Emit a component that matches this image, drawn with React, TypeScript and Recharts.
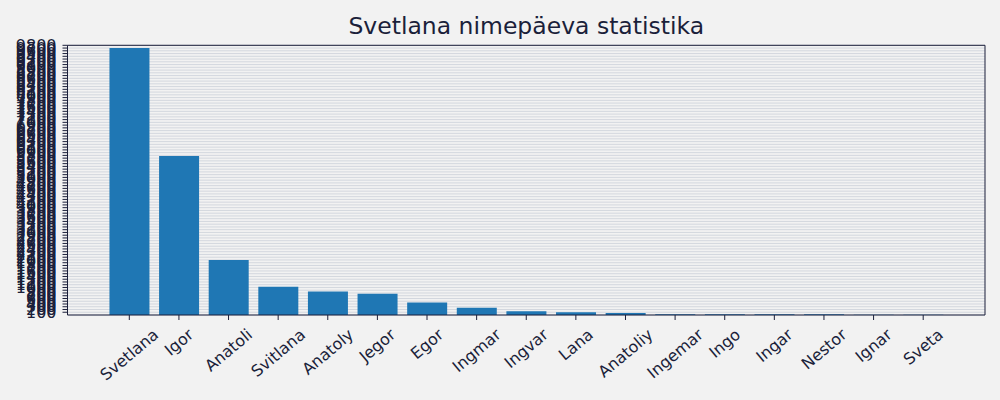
import React from "react";
import { BarChart, Bar, XAxis, YAxis, CartesianGrid } from "recharts";

const names = [
  "Svetlana", "Igor", "Anatoli", "Svitlana", "Anatoly", "Jegor", "Egor", "Ingmar", "Ingvar",
  "Lana", "Anatoliy", "Ingemar", "Ingo", "Ingar", "Nestor", "Ignar", "Sveta",
];
const counts = [9700, 5780, 2000, 1030, 850, 775, 450, 265, 135, 100, 73, 28, 28, 28, 28, 5, 5];

// y ticks every 100, like the original
const yTicks = Array.from({ length: 98 }, (_, i) => (i + 1) * 100);

const data = names.map((name, i) => ({ name, count: counts[i] }));

const INK = "#1b1f3a";
const FONT = "DejaVu Sans";
const TICK_FONT = 16;
const ANGLE = 40;

let ctx: CanvasRenderingContext2D | null = null;
const textWidth = (s: string) => {
  if (!ctx) ctx = document.createElement("canvas").getContext("2d");
  if (!ctx) return s.length * 8;
  ctx.font = `${TICK_FONT}px "${FONT}"`;
  return ctx.measureText(s).width;
};

const RotatedTick = (props: any) => {
  const { x, payload } = props;
  const label = String(payload.value);
  const rad = (ANGLE * Math.PI) / 180;
  const h = TICK_FONT * 1.17;
  const boxH = textWidth(label) * Math.sin(rad) + h * Math.cos(rad);
  const top = 325;
  const cy = top + boxH / 2;
  return (
    <text
      x={x}
      y={cy}
      transform={`rotate(-${ANGLE}, ${x}, ${cy})`}
      textAnchor="middle"
      dominantBaseline="central"
      fill={INK}
      fontSize={TICK_FONT}
      fontFamily={FONT}
    >
      {label}
    </text>
  );
};

export default function App() {
  return (
    <div style={{ position: "absolute", left: 0, top: 0, width: 1000, height: 400, background: "#f2f2f2" }}>
      <div
        style={{
          position: "absolute",
          left: 67.5,
          width: 917.5,
          top: 12,
          textAlign: "center",
          fontFamily: FONT,
          fontSize: 23.5,
          color: INK,
        }}
      >
        Svetlana nimepäeva statistika
      </div>
      <BarChart
        width={1000}
        height={400}
        data={data}
        margin={{ top: 44.3, right: 14, bottom: 0, left: 0 }}
        barCategoryGap="10%"
      >
        <CartesianGrid vertical={false} stroke="#d3d7de" />
        <XAxis
          dataKey="name"
          interval={0}
          height={85}
          padding={{ left: 37, right: 37 }}
          tickSize={5}
          stroke={INK}
          tick={<RotatedTick />}
        />
        <XAxis
          xAxisId="top"
          dataKey="name"
          orientation="top"
          height={1}
          tick={false}
          tickLine={false}
          stroke={INK}
        />
        <YAxis
          width={67.5}
          domain={[0, 9800]}
          ticks={yTicks}
          interval={0}
          tickSize={5}
          tickMargin={6}
          stroke={INK}
          tick={{ fill: INK, fontSize: TICK_FONT, fontFamily: FONT }}
          allowDataOverflow
        />
        <YAxis
          yAxisId="right"
          orientation="right"
          type="number"
          domain={[0, 9800]}
          width={1}
          tick={false}
          tickLine={false}
          stroke={INK}
        />
        <Bar dataKey="count" fill="#1f77b4" isAnimationActive={false} />
      </BarChart>
    </div>
  );
}
